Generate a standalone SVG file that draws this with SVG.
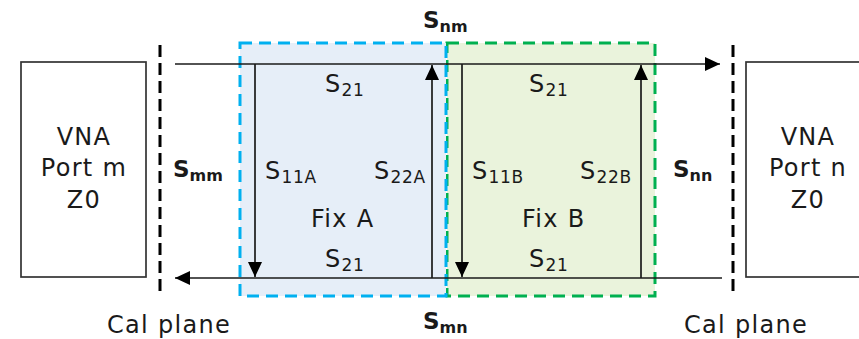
<svg xmlns="http://www.w3.org/2000/svg" width="859" height="339" viewBox="0 0 859 339">
  <style>
    .txt { font-family: "DejaVu Sans", Verdana, sans-serif; font-size: 24px; fill: #1a1a1a; letter-spacing: 1.3px; }
    .sub { font-size: 17px; letter-spacing: 0.6px; }
    .bold { font-family: "DejaVu Sans", Verdana, sans-serif; font-weight: bold; font-size: 23px; fill: #1a1a1a; }
    .bsub { font-size: 16px; }
    .port { fill: #ffffff; stroke: #333333; stroke-width: 1.7; }
    .plane { stroke: #000000; stroke-width: 3; stroke-dasharray: 12 6; fill: none; }
    .wire { stroke: #1a1a1a; stroke-width: 1.7; fill: none; marker-end: url(#arrow); }
  </style>
  <defs>
    <marker id="arrow" markerUnits="userSpaceOnUse" markerWidth="16" markerHeight="16" refX="15" refY="7" orient="auto">
      <path d="M0,0 L15,7 L0,14 z" fill="#000000"/>
    </marker>
  </defs>

  <rect width="859" height="339" fill="#ffffff"/>

  <!-- fixture B (green) -->
  <g id="fixB">
    <rect x="447" y="43" width="208" height="253" fill="#EAF3DC" stroke="#00B050" stroke-width="3" stroke-dasharray="12 7"/>
    <text class="txt" x="472" y="179">S<tspan class="sub" dy="4">11B</tspan></text>
    <text class="txt" x="580" y="179">S<tspan class="sub" dy="4">22B</tspan></text>
    <text class="txt" x="522" y="227">Fix B</text>
  </g>

  <!-- fixture A (blue) -->
  <g id="fixA">
    <rect x="240" y="43" width="206" height="253" fill="#E6EEF8" stroke="#00B0F0" stroke-width="3" stroke-dasharray="12 7"/>
    <text class="txt" x="265" y="179">S<tspan class="sub" dy="4">11A</tspan></text>
    <text class="txt" x="374" y="179">S<tspan class="sub" dy="4">22A</tspan></text>
    <text class="txt" x="311" y="227">Fix A</text>
  </g>

  <!-- through-path labels -->
  <g id="s21-labels">
    <text class="txt" x="325" y="92">S<tspan class="sub" dy="4">21</tspan></text>
    <text class="txt" x="529" y="92">S<tspan class="sub" dy="4">21</tspan></text>
    <text class="txt" x="325" y="267">S<tspan class="sub" dy="4">21</tspan></text>
    <text class="txt" x="529" y="267">S<tspan class="sub" dy="4">21</tspan></text>
  </g>

  <!-- VNA ports -->
  <g id="portM">
    <rect class="port" x="21" y="62" width="125" height="215"/>
    <text class="txt" x="84" y="145" text-anchor="middle">VNA</text>
    <text class="txt" x="84" y="176" text-anchor="middle">Port m</text>
    <text class="txt" x="84" y="208" text-anchor="middle">Z0</text>
  </g>
  <g id="portN">
    <rect class="port" x="746" y="62" width="130" height="215"/>
    <text class="txt" x="808" y="145" text-anchor="middle">VNA</text>
    <text class="txt" x="808" y="176" text-anchor="middle">Port n</text>
    <text class="txt" x="808" y="208" text-anchor="middle">Z0</text>
  </g>

  <!-- calibration planes -->
  <g id="calPlaneM">
    <line class="plane" x1="160" y1="45" x2="160" y2="293"/>
    <text class="txt" x="107" y="333">Cal plane</text>
  </g>
  <g id="calPlaneN">
    <line class="plane" x1="733" y1="45" x2="733" y2="293"/>
    <text class="txt" x="684" y="333">Cal plane</text>
  </g>

  <!-- reflection / transmission labels -->
  <g id="s-params">
    <text class="bold" x="423" y="28">S<tspan class="bsub" dy="4">nm</tspan></text>
    <text class="bold" x="423" y="329">S<tspan class="bsub" dy="4">mn</tspan></text>
    <text class="bold" x="173" y="177">S<tspan class="bsub" dy="4">mm</tspan></text>
    <text class="bold" x="673" y="177">S<tspan class="bsub" dy="4">nn</tspan></text>
  </g>

  <!-- signal paths -->
  <g id="connectors">
    <line class="wire" x1="175" y1="64" x2="720" y2="64"/>
    <line class="wire" x1="722" y1="278" x2="175" y2="278"/>
    <line class="wire" x1="255" y1="64" x2="255" y2="277"/>
    <line class="wire" x1="432" y1="278" x2="432" y2="65"/>
    <line class="wire" x1="462" y1="64" x2="462" y2="277"/>
    <line class="wire" x1="641" y1="278" x2="641" y2="65"/>
  </g>
</svg>
